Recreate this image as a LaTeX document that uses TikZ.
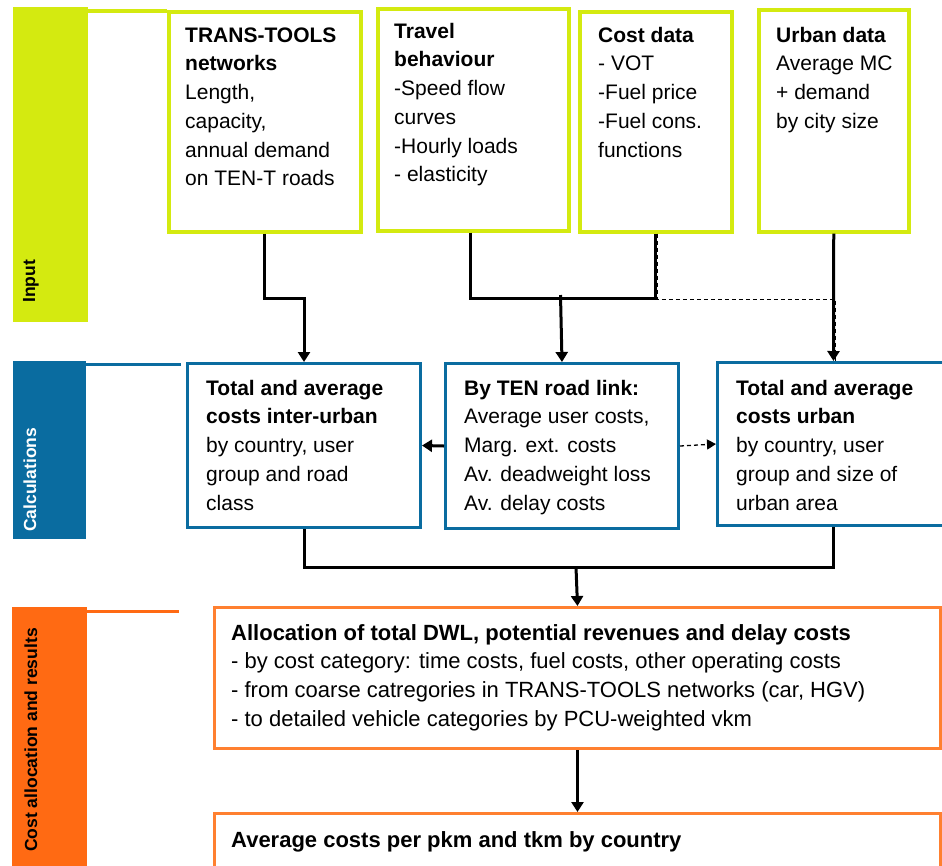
\documentclass[tikz,border=0pt]{standalone}
\usepackage{fontspec}
\setmainfont{Liberation Sans}
\usetikzlibrary{arrows.meta}
\definecolor{limec}{RGB}{212,234,16}
\definecolor{calcblue}{RGB}{10,108,160}
\definecolor{orbar}{RGB}{255,106,19}
\definecolor{orbox}{RGB}{255,128,48}
\newcommand\fs{\rule{0pt}{18pt}}
\tikzset{
  inbox/.style={draw=limec, line width=3.5pt, rectangle, inner sep=0pt, anchor=north west, fill=white},
  calcbox/.style={draw=calcblue, line width=3pt, rectangle, inner sep=0pt, anchor=north west, fill=white},
  allocbox/.style={draw=orbox, line width=3pt, rectangle, inner sep=0pt, anchor=north west, fill=white},
  txt/.style={anchor=north west, inner sep=0pt, align=left, font=\fontsize{21}{28.7}\selectfont},
  wtxt/.style={anchor=north west, inner sep=0pt, align=left, font=\fontsize{22}{28.7}\selectfont},
  sidelabel/.style={rotate=90, anchor=base west, inner sep=0pt, font=\fontsize{17.5}{20}\selectfont\bfseries},
  conn/.style={line width=3pt, -{Triangle[length=10pt,width=12pt]}},
  plainconn/.style={line width=3pt},
  dconn/.style={line width=1.3pt, dash pattern=on 4pt off 3pt},
  darrow/.style={line width=1.3pt, dash pattern=on 4pt off 3pt, -{Triangle[length=9pt,width=10pt]}},
}
\begin{document}
\begin{tikzpicture}[x=1pt,y=-1pt]
\clip (0,0) rectangle (942,865);
\fill[white] (0,0) rectangle (942,865);

% side bars
\fill[limec] (13,7) rectangle (88,322);
\draw[limec, line width=4pt] (88,11) -- (167,11);
\node[sidelabel, text=black] (lin) at (35,303) {Input};
\fill[calcblue] (13,361) rectangle (86,539);
\draw[calcblue, line width=3pt] (86,364) -- (181,364);
\node[sidelabel, text=white] (lca) at (36,532) {Calculations};
\fill[orbar] (12,607) rectangle (87,870);
\draw[orbar, line width=3pt] (87,611) -- (179,611);
\node[sidelabel, text=black] (lal) at (37,852) {Cost allocation and results};

% input boxes
\node[inbox, minimum width=192pt, minimum height=220pt] (tt) at (167,10) {};
\node[inbox, minimum width=191pt, minimum height=222pt] (tb) at (376,7) {};
\node[inbox, minimum width=152pt, minimum height=220pt] (cd) at (578,10) {};
\node[inbox, minimum width=150pt, minimum height=222pt] (ud) at (757,8) {};

\node[txt] (ttt) at (185,24) {\fs\textbf{TRANS-TOOLS}\\\textbf{networks}\\Length,\\capacity,\\annual demand\\on TEN-T roads};
\node[txt] (tbt) at (394,20) {\fs\textbf{Travel}\\\textbf{behaviour}\\-Speed flow\\curves\\-Hourly loads\\- elasticity};
\node[txt] (cdt) at (598,24) {\fs\textbf{Cost data}\\- VOT\\-Fuel price\\-Fuel cons.\\functions};
\node[txt] (udt) at (776,24) {\fs\textbf{Urban data}\\Average MC\\+ demand\\by city size};

% calculation boxes
\node[calcbox, minimum width=233pt, minimum height=164pt] (c1) at (186,362) {};
\node[calcbox, minimum width=233pt, minimum height=165pt] (ten) at (444,362) {};
\node[calcbox, minimum width=232pt, minimum height=163pt] (urb) at (716,361) {};

\node[txt] (c1t) at (206,377) {\fs\textbf{Total and average}\\\textbf{costs inter-urban}\\by country, user\\group and road\\class};
\node[txt] (tent) at (464,377) {\fs\textbf{By TEN road link:}\\Average user costs,\\Marg. ext. costs\\Av. deadweight loss\\Av. delay costs};
\node[txt] (urbt) at (736,377) {\fs\textbf{Total and average}\\\textbf{costs urban}\\by country, user\\group and size of\\urban area};

% allocation boxes
\node[allocbox, minimum width=726pt, minimum height=141pt] (al) at (213,606) {};
\node[allocbox, minimum width=726pt, minimum height=80pt] (fin) at (213,812) {};
\node[wtxt] (alt) at (231,622) {\fs\textbf{Allocation of total DWL, potential revenues and delay costs}\\- by cost category: time costs, fuel costs, other operating costs\\- from coarse catregories in TRANS-TOOLS networks (car, HGV)\\- to detailed vehicle categories by PCU-weighted vkm};
\node[wtxt] (fint) at (231,829) {\fs\textbf{Average costs per pkm and tkm by country}};

% connectors input -> calculations
\coordinate (j1) at (560.5,295);
\draw[dconn] ([xshift=2pt]cd.south) -- ++(0,66) -| ([xshift=2pt]urb.north);
\draw[conn] (tt.south) -- ++(0,65) -| (c1.north);
\draw[plainconn] ([xshift=-2.5pt]tb.south) -- ++(0,66) -| (cd.south);
\draw[conn] (j1) -- (ten.north);
\draw[conn] (ud.south) -- (urb.north);

% calculations internal
\draw[conn] (ten.west) -- (c1.east);
\draw[darrow] (ten.east) -- (urb.west);

% calculations -> allocation
\coordinate (j2) at (576,567);
\draw[plainconn] (c1.south) |- (j2);
\draw[plainconn] (urb.south) |- (j2);
\draw[conn] (j2) -- (al.north);
\draw[conn] (al.south) -- (fin.north);
\end{tikzpicture}
\end{document}
